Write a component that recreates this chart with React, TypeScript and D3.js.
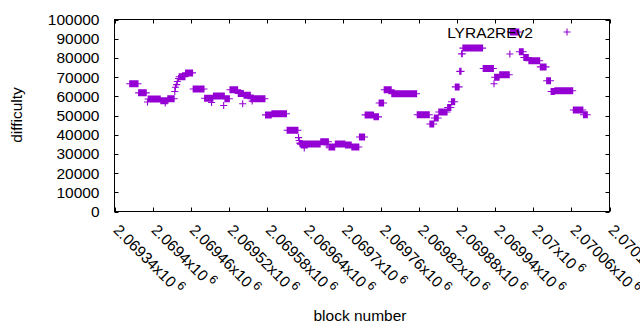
import React from "react";
import * as d3 from "d3";

// Runs of consecutive blocks sharing the same difficulty (start block, end block, difficulty)
const runStart = [
  2069364, 2069378, 2069392, 2069393, 2069413, 2069420, 2069424, 2069435, 2069436, 2069438,
  2069439, 2069441, 2069442, 2069452, 2069464, 2069482, 2069493, 2069496, 2069512, 2069514,
  2069522, 2069535, 2069542, 2069544, 2069555, 2069557, 2069578, 2069588, 2069612, 2069630,
  2069631, 2069632, 2069633, 2069639, 2069665, 2069675, 2069678, 2069688, 2069704, 2069714,
  2069726, 2069735, 2069749, 2069757, 2069765, 2069777, 2069817, 2069837, 2069844, 2069851,
  2069865, 2069871, 2069877, 2069884, 2069887, 2069889, 2069921, 2069938, 2069939, 2069947,
  2069963, 2069964, 2069978, 2069985, 2069993, 2070011, 2070021, 2070028, 2070034, 2070063,
  2070079,
];
const runEnd = [
  2069377, 2069390, 2069392, 2069412, 2069423, 2069420, 2069434, 2069435, 2069436, 2069438,
  2069439, 2069441, 2069451, 2069463, 2069481, 2069495, 2069493, 2069513, 2069512, 2069521,
  2069534, 2069543, 2069542, 2069554, 2069577, 2069557, 2069587, 2069611, 2069629, 2069630,
  2069631, 2069632, 2069664, 2069639, 2069677, 2069675, 2069687, 2069703, 2069713, 2069725,
  2069734, 2069748, 2069756, 2069764, 2069776, 2069816, 2069836, 2069843, 2069850, 2069864,
  2069870, 2069876, 2069883, 2069886, 2069888, 2069920, 2069937, 2069938, 2069946, 2069962,
  2069963, 2069977, 2069984, 2069992, 2070010, 2070020, 2070027, 2070033, 2070062, 2070078,
  2070085,
];
const runDifficulty = [
  66500, 61800, 57000, 58600, 57700, 56500, 58700, 62500, 64700, 66100,
  67700, 69300, 70200, 72200, 63800, 59000, 56800, 60200, 55200, 58700,
  63400, 61500, 56100, 60600, 58700, 57500, 50300, 50900, 42300, 38500,
  37000, 35600, 35100, 33100, 36300, 34600, 33600, 35100, 34600, 33600,
  38800, 50300, 49300, 56500, 63400, 61300, 50400, 45600, 48700, 51800,
  54200, 57200, 64900, 73000, 82100, 85100, 74500, 66500, 69900, 71200,
  82000, 93500, 83200, 80200, 78500, 75300, 68100, 62500, 62900, 52900,
  50400,
];

const xTicks = [
  2069340, 2069400, 2069460, 2069520, 2069580, 2069640, 2069700,
  2069760, 2069820, 2069880, 2069940, 2070000, 2070060, 2070120,
];
const xTickMantissas = [
  "2.06934", "2.0694", "2.06946", "2.06952", "2.06958", "2.06964", "2.0697",
  "2.06976", "2.06982", "2.06988", "2.06994", "2.07", "2.07006", "2.07012",
];
const yTicks = [0, 10000, 20000, 30000, 40000, 50000, 60000, 70000, 80000, 90000, 100000];

const seriesName = "LYRA2REv2";
const xLabel = "block number";
const yLabel = "difficulty";

const COLOR = "#9400d3";
const FONT = "'Liberation Sans', Arial, sans-serif";

export default function App() {
  const W = 640, H = 330;
  const left = 114.5, right = 609.5, top = 19.5, bottom = 211.5;
  const x = d3.scaleLinear().domain([xTicks[0], xTicks[xTicks.length - 1]]).range([left, right]);
  const y = d3.scaleLinear().domain([0, 100000]).range([bottom, top]);

  const points: [number, number][] = [];
  runStart.forEach((s, i) => {
    for (let b = s; b <= runEnd[i]; b++) points.push([b, runDifficulty[i]]);
  });
  const h = 3.5;
  const plus = (cx: number, cy: number) =>
    `M${cx - h},${cy}H${cx + h}M${cx},${cy - h}V${cy + h}`;
  const dataPath = points.map(([b, d]) => plus(x(b), y(d))).join("");

  const tl = 4;
  const fs = 15.5;

  return (
    <svg
      width={W}
      height={H}
      viewBox={`0 0 ${W} ${H}`}
      style={{ position: "absolute", left: 0, top: 0, background: "#fff" }}
      fontFamily={FONT}
    >
      <rect x={0} y={0} width={W} height={H} fill="#fff" />
      {/* ticks */}
      <g stroke="#000" strokeWidth={1}>
        {yTicks.map((t) => (
          <g key={"y" + t}>
            <line x1={left} x2={left + tl} y1={Math.round(y(t)) + 0.5} y2={Math.round(y(t)) + 0.5} />
            <line x1={right} x2={right - tl} y1={Math.round(y(t)) + 0.5} y2={Math.round(y(t)) + 0.5} />
          </g>
        ))}
        {xTicks.map((t) => (
          <g key={"x" + t}>
            <line x1={Math.round(x(t)) + 0.5} x2={Math.round(x(t)) + 0.5} y1={bottom} y2={bottom - tl} />
            <line x1={Math.round(x(t)) + 0.5} x2={Math.round(x(t)) + 0.5} y1={top} y2={top + tl} />
          </g>
        ))}
        <rect x={left} y={top} width={right - left} height={bottom - top} fill="none" />
      </g>
      {/* y tick labels */}
      <g fontSize={fs} fill="#000" textAnchor="end">
        {yTicks.map((t) => (
          <text key={"yl" + t} x={99.5} y={y(t)} dy="0.36em">
            {t}
          </text>
        ))}
      </g>
      {/* x tick labels */}
      <g fontSize={fs} fill="#000">
        {xTicks.map((t, i) => (
          <text key={"xl" + t} transform={`translate(${x(t) - 2},${231}) rotate(45)`}>
            {xTickMantissas[i] + "x10"}
            <tspan fontSize={fs * 0.8} dx={3} dy={-6}>6</tspan>
          </text>
        ))}
      </g>
      {/* axis titles */}
      <text x={360} y={321} fontSize={fs} textAnchor="middle">{xLabel}</text>
      <text transform={`translate(22,115) rotate(-90)`} fontSize={fs} textAnchor="middle">{yLabel}</text>
      {/* data */}
      <path d={dataPath} stroke={COLOR} strokeWidth={1.1} fill="none" />
      {/* key */}
      <text x={533} y={37.5} fontSize={fs} textAnchor="end">{seriesName}</text>
      <path d={plus(567, 32)} stroke={COLOR} strokeWidth={1.1} fill="none" />
    </svg>
  );
}
